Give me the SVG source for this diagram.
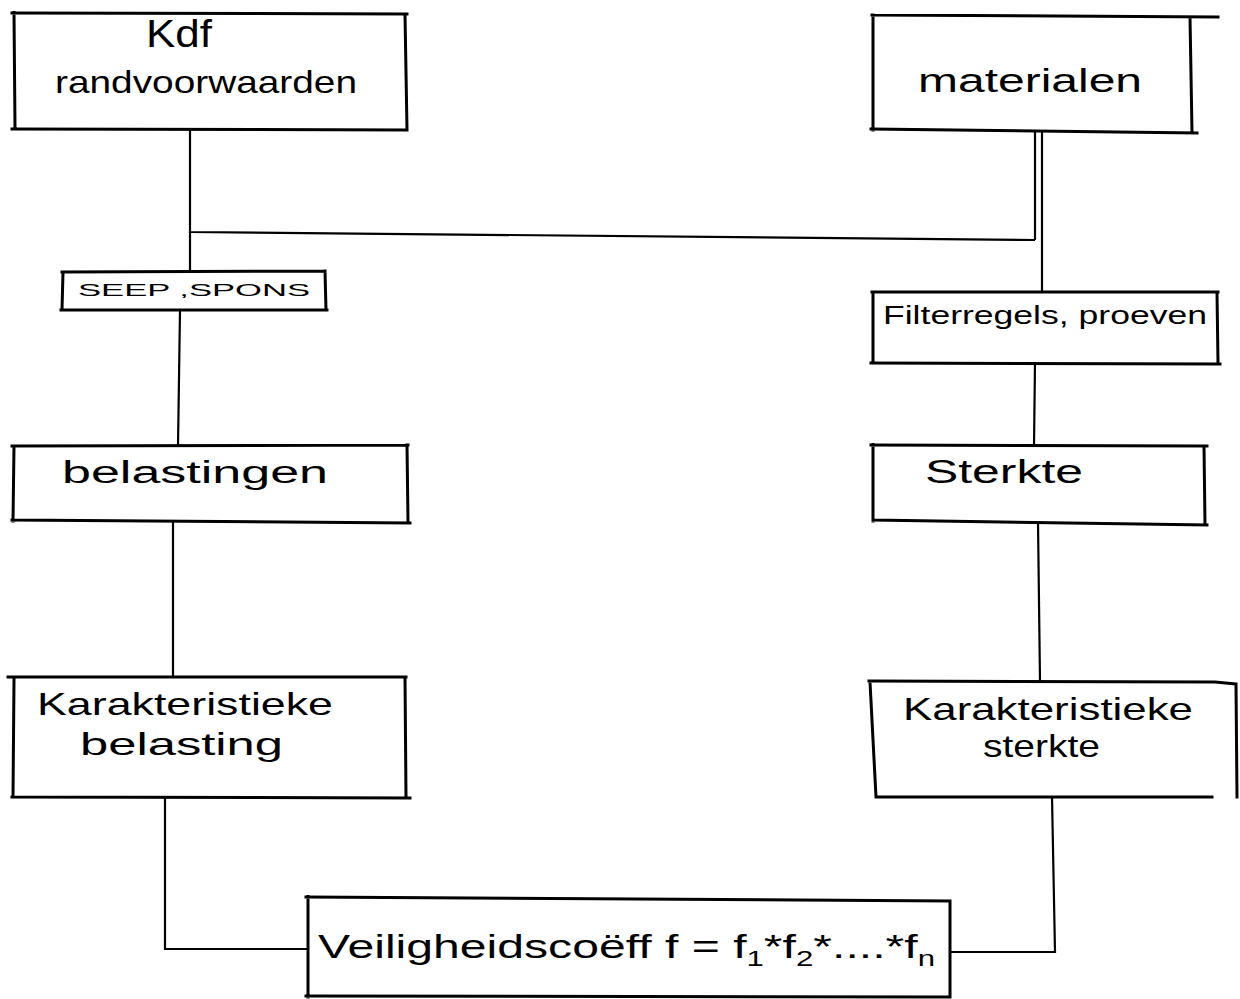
<svg xmlns="http://www.w3.org/2000/svg" width="1240" height="999" viewBox="0 0 1240 999">
<style>
.box{fill:none;stroke:#000;stroke-width:3;stroke-linejoin:miter;stroke-linecap:square}
.ln{fill:none;stroke:#000;stroke-width:2.2;stroke-linecap:butt}
.t{font-family:"Liberation Sans","DejaVu Sans",sans-serif;fill:#000}
</style>
<rect width="1240" height="999" fill="#fff"/>
<g id="connectors">
  <path class="ln" d="M190,130 L190,232 L1035,240"/>
  <path class="ln" d="M190,232 L190,272"/>
  <path class="ln" d="M1035,132 L1035,240"/>
  <path class="ln" d="M1042,132 L1042,292"/>
  <path class="ln" d="M180,310 L178,446"/>
  <path class="ln" d="M173,522 L173,677"/>
  <path class="ln" d="M165,797 L165,949 L308,949"/>
  <path class="ln" d="M1035,362 L1034,446"/>
  <path class="ln" d="M1038,522 L1040,682"/>
  <path class="ln" d="M1052,797 L1055,952 L950,952"/>
</g>
<g id="n-kdf">
  <path class="box" d="M12,13 L407,14 M14,13 L15,128 M405,14 L407,130 M12,129 L407,130"/>
  <text class="t" x="146" y="47" font-size="38" textLength="66" lengthAdjust="spacingAndGlyphs">Kdf</text>
  <text class="t" x="55" y="93" font-size="32" textLength="302" lengthAdjust="spacingAndGlyphs">randvoorwaarden</text>
</g>
<g id="n-materialen">
  <path class="box" d="M872,15 L1218,17 M873,15 L873,130 M1190,17 L1192,132 M871,129 L1197,133"/>
  <text class="t" x="918" y="92" font-size="34" textLength="224" lengthAdjust="spacingAndGlyphs">materialen</text>
</g>
<g id="n-seep">
  <path class="box" d="M62,272 L325,271 M63,272 L62,310 M325,271 L326,310 M61,310 L327,310"/>
  <text class="t" x="78" y="296" font-size="17" textLength="232" lengthAdjust="spacingAndGlyphs">SEEP ,SPONS</text>
</g>
<g id="n-filter">
  <path class="box" d="M872,292 L1218,292 M873,292 L873,363 M1217,292 L1218,363 M871,363 L1220,364"/>
  <text class="t" x="883" y="324" font-size="25" textLength="324" lengthAdjust="spacingAndGlyphs">Filterregels, proeven</text>
</g>
<g id="n-belastingen">
  <path class="box" d="M12,446 L408,445 M14,446 L13,521 M407,445 L408,522 M12,520 L410,523"/>
  <text class="t" x="62" y="483" font-size="31" textLength="266" lengthAdjust="spacingAndGlyphs">belastingen</text>
</g>
<g id="n-sterkte">
  <path class="box" d="M871,445 L1207,446 M873,445 L873,521 M1204,446 L1205,525 M873,520 L1207,525"/>
  <text class="t" x="925" y="483" font-size="34" textLength="158" lengthAdjust="spacingAndGlyphs">Sterkte</text>
</g>
<g id="n-kar-belasting">
  <path class="box" d="M8,677 L406,677 M14,680 L13,797 M405,677 L406,796 M12,797 L410,798"/>
  <text class="t" x="37" y="715" font-size="32" textLength="296" lengthAdjust="spacingAndGlyphs">Karakteristieke</text>
  <text class="t" x="80" y="755" font-size="32" textLength="203" lengthAdjust="spacingAndGlyphs">belasting</text>
</g>
<g id="n-kar-sterkte">
  <path class="box" d="M869,681 L1215,682 L1236,684 M870,682 L876,797 M1236,684 L1237,797 M876,797 L1212,797"/>
  <text class="t" x="903" y="720" font-size="32" textLength="290" lengthAdjust="spacingAndGlyphs">Karakteristieke</text>
  <text class="t" x="983" y="757" font-size="32" textLength="117" lengthAdjust="spacingAndGlyphs">sterkte</text>
</g>
<g id="n-veiligheid">
  <path class="box" d="M306,897 L950,901 M308,897 L308,997 M950,901 L950,997 M306,996 L950,997"/>
  <text class="t" x="318" y="958" font-size="34" textLength="617" lengthAdjust="spacingAndGlyphs">Veiligheidscoëff  f = f<tspan font-size="22" dy="8">1</tspan><tspan dy="-8">*f</tspan><tspan font-size="22" dy="8">2</tspan><tspan dy="-8">*....*f</tspan><tspan font-size="22" dy="8">n</tspan></text>
</g>
</svg>
